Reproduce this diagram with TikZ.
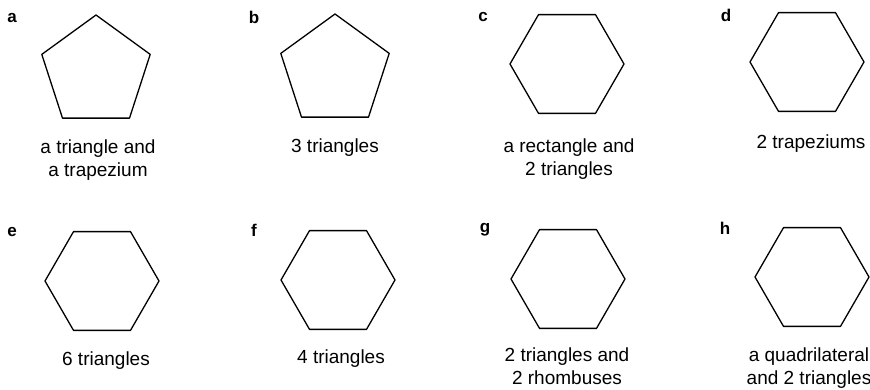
\documentclass[tikz,border=0pt]{standalone}
\usepackage{fontspec}
\setmainfont{Liberation Sans}
\tikzset{
    shapeline/.style={line width=1.3pt, line join=round},
    letter/.style={font=\bfseries\fontsize{17}{17}\selectfont, inner sep=0pt},
    caption/.style={font=\fontsize{19}{23}\selectfont, align=center, anchor=north, inner sep=0pt}
}
\begin{document}
\begin{tikzpicture}[x=1pt,y=-1pt]
    \useasboundingbox (0,0) rectangle (870,390);

    % pentagons a, b
    \foreach \cx/\cy in {96/72, 335/71}
        \draw[shapeline, shift={(\cx,\cy)}] (270:57) -- (342:57) -- (54:57) -- (126:57) -- (198:57) -- cycle;

    % hexagons c to h
    \foreach \cx/\cy in {567/64, 807/62, 102/281, 338/280, 568/279, 812/277}
        \draw[shapeline, shift={(\cx,\cy)}] (0:57) -- (60:57) -- (120:57) -- (180:57) -- (240:57) -- (300:57) -- cycle;

    % letters
    \foreach \n/\x/\y in {a/12/18, b/254/17, c/483/17, d/726/15, e/12/232, f/254/230, g/485/230, h/725/228}
        \node[letter] (lab-\n) at (\x,\y) {\n};

    % captions
    \node[caption] (cap-a) at (98,140) {a triangle and\\a trapezium};
    \node[caption] (cap-b) at (335,139) {3 triangles};
    \node[caption] (cap-c) at (569,139) {a rectangle and\\2 triangles};
    \node[caption] (cap-d) at (811,135) {2 trapeziums};
    \node[caption] (cap-e) at (106,352) {6 triangles};
    \node[caption] (cap-f) at (341,350) {4 triangles};
    \node[caption] (cap-g) at (567,348) {2 triangles and\\2 rhombuses};
    \node[caption] (cap-h) at (809,348) {a quadrilateral\\and 2 triangles};

\end{tikzpicture}
\end{document}
